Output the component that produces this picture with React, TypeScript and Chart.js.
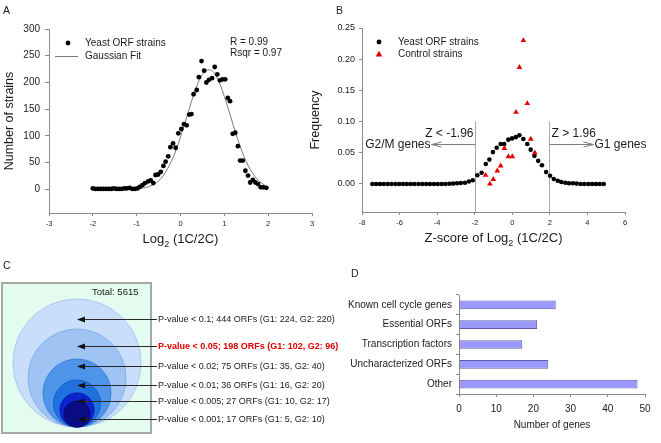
import React, { useEffect, useRef } from "react";
import { Chart, registerables } from "chart.js";

Chart.register(...registerables);

const FONT = "'Liberation Sans', Arial, Helvetica, sans-serif";
Chart.defaults.font.family = FONT;

// ---------- Panel A data ----------
const strainLog2 = [
  -2.0, -1.94, -1.88, -1.82, -1.76, -1.7, -1.64, -1.58, -1.52, -1.46, -1.4, -1.34, -1.28, -1.22, -1.16, -1.1, -1.04,
  -0.98, -0.93, -0.87, -0.81, -0.74, -0.68, -0.62, -0.57, -0.51, -0.45,
  -0.39, -0.34, -0.28, -0.23, -0.17, -0.11, -0.05, 0.02, 0.08, 0.14,
  0.2, 0.25, 0.3, 0.37, 0.42, 0.48, 0.54, 0.59, 0.65, 0.72,
  0.78, 0.84, 0.9, 0.96, 1.02, 1.08, 1.13, 1.19, 1.25, 1.31,
  1.36, 1.42, 1.48, 1.54, 1.59, 1.65, 1.71, 1.77, 1.83, 1.89, 1.96,
];
const strainCount = [
  2, 1, 1, 1, 1, 1, 1, 1, 2, 1, 1, 1, 2, 2, 3, 1, 1,
  2, 5, 8, 12, 15, 17, 12, 27, 28, 33,
  44, 52, 62, 79, 86, 78, 105, 113, 122, 120,
  140, 141, 178, 186, 210, 240, 222, 200, 205, 208,
  229, 215, 204, 206, 206, 171, 165, 104, 106, 81,
  54, 54, 35, 26, 13, 18, 13, 10, 4, 4, 3,
];
const fitLog2 = [
  -2.0, -1.5, -1.2, -1.0, -0.9, -0.8, -0.7, -0.6, -0.5, -0.4, -0.3, -0.2, -0.1, 0.0, 0.1, 0.2, 0.3,
  0.4, 0.5, 0.6, 0.7, 0.8, 0.9, 1.0, 1.1, 1.2, 1.3, 1.4, 1.5, 1.6, 1.7, 1.8, 1.9, 1.95,
];
const fitCount = [
  0, 0, 0.3, 1, 1.9, 3.4, 6, 10, 16, 25, 38, 54, 74, 98, 124, 151, 177,
  199, 215, 223, 223, 214, 197, 174, 148, 121, 95, 72, 52, 36, 24, 15, 9, 6,
];
const log2Ticks = [-3, -2, -1, 0, 1, 2, 3];
const countTicks = [0, 50, 100, 150, 200, 250, 300];
const fitStats = ["R = 0.99", "Rsqr = 0.97"];

// ---------- Panel B data ----------
const zYeast = [
  -7.45, -7.25, -7.04, -6.84, -6.63, -6.43, -6.22, -6.02, -5.81, -5.61, -5.4, -5.2, -4.99, -4.79, -4.58, -4.38,
  -4.17, -3.97, -3.76, -3.56, -3.35, -3.15, -2.94, -2.74,
  -2.52, -2.31, -2.1, -1.86, -1.63, -1.41, -1.22, -1.03, -0.83, -0.62,
  -0.43, -0.21, -0.01, 0.19, 0.38, 0.59, 0.8, 0.98, 1.18, 1.38,
  1.58, 1.8, 2.01, 2.21, 2.42, 2.61, 2.82, 3.02, 3.23, 3.43,
  3.64, 3.84, 4.05, 4.25, 4.46, 4.66, 4.87,
];
const freqYeast = [
  0, 0, 0, 0, 0, 0, 0, 0, 0, 0, 0, 0, 0, 0, 0, 0,
  0, 0, 0, 0, 0.0003, 0.0005, 0.001, 0.0015,
  0.002, 0.004, 0.006, 0.014, 0.018, 0.032, 0.039, 0.051, 0.058, 0.064,
  0.064, 0.071, 0.073, 0.075, 0.078, 0.072, 0.064, 0.055, 0.045, 0.037,
  0.03, 0.019, 0.013, 0.008, 0.005, 0.003, 0.002, 0.001, 0.001, 0.0005,
  0, 0, 0, 0, 0, 0, 0,
];
const zControl = [-1.42, -1.19, -1.01, -0.8, -0.62, -0.42, -0.21, 0.0, 0.2, 0.38, 0.59, 0.8, 0.98, 1.2];
const freqControl = [0.014, 0.0, 0.0075, 0.021, 0.029, 0.057, 0.044, 0.044, 0.115, 0.187, 0.23, 0.129, 0.072, 0.05];
const zTicks = [-8, -6, -4, -2, 0, 2, 4, 6];
const freqTicks = [0, 0.05, 0.1, 0.15, 0.2, 0.25];
const zCutoffs = [-1.96, 1.96];

// ---------- Panel C data ----------
const pThresholds = ["0.1", "0.05", "0.02", "0.01", "0.005", "0.001"];
const orfCounts = [444, 198, 75, 36, 27, 17];
const g1Counts = [224, 102, 35, 16, 10, 5];
const g2Counts = [220, 96, 40, 20, 17, 10];
const totalOrfs = 5615;

// ---------- Panel D data ----------
const geneCategories = ["Known cell cycle genes", "Essential ORFs", "Transcription factors", "Uncharacterized ORFs", "Other"];
const geneCounts = [26, 21, 17, 24, 48];
const geneTicks = [0, 10, 20, 30, 40, 50];

// ---------- helpers ----------
const AXIS = "#8a8a8a";
const TXT = "#1a1a1a";
const fixW = (w: number) => (s: any) => { s.width = w; };
const fixH = (h: number) => (s: any) => { s.height = h; };
const setTicks = (vals: number[]) => (s: any) => { s.ticks = vals.map((v) => ({ value: v })); };

function drawLogTitle(ctx: CanvasRenderingContext2D, prefix: string, cx: number, baseY: number, size: number) {
  const main = `${size}px ${FONT}`;
  const sub = `${Math.round(size * 0.68)}px ${FONT}`;
  ctx.font = main;
  const w1 = ctx.measureText(prefix + "Log").width;
  const w3 = ctx.measureText(" (1C/2C)").width;
  ctx.font = sub;
  const w2 = ctx.measureText("2").width;
  let x = cx - (w1 + w2 + w3) / 2;
  ctx.textAlign = "left";
  ctx.textBaseline = "alphabetic";
  ctx.fillStyle = TXT;
  ctx.font = main;
  ctx.fillText(prefix + "Log", x, baseY);
  x += w1;
  ctx.font = sub;
  ctx.fillText("2", x, baseY + size * 0.28);
  x += w2;
  ctx.font = main;
  ctx.fillText(" (1C/2C)", x, baseY);
}

function drawVTitle(ctx: CanvasRenderingContext2D, text: string, cx: number, cy: number, size: number) {
  ctx.save();
  ctx.translate(cx, cy);
  ctx.rotate(-Math.PI / 2);
  ctx.font = `${size}px ${FONT}`;
  ctx.fillStyle = TXT;
  ctx.textAlign = "center";
  ctx.textBaseline = "middle";
  ctx.fillText(text, 0, 0);
  ctx.restore();
}

function axisOpts(extra: any) {
  return {
    grid: { drawOnChartArea: false, drawTicks: true, tickLength: 3, color: AXIS },
    border: { display: true, color: AXIS, width: 1 },
    ...extra,
  };
}

// ---------- Panel A ----------
function makeA(canvas: HTMLCanvasElement) {
  const overlay = {
    id: "aOverlay",
    afterDraw(chart: any) {
      const { ctx, chartArea } = chart;
      ctx.save();
      ctx.fillStyle = "#000";
      ctx.beginPath();
      ctx.arc(68, 43, 2.4, 0, Math.PI * 2);
      ctx.fill();
      ctx.strokeStyle = "#7a7a7a";
      ctx.lineWidth = 1;
      ctx.beginPath();
      ctx.moveTo(55, 56.5);
      ctx.lineTo(78, 56.5);
      ctx.stroke();
      ctx.font = `10px ${FONT}`;
      ctx.fillStyle = TXT;
      ctx.textAlign = "left";
      ctx.textBaseline = "middle";
      ctx.fillText(chart.data.datasets[1].label, 85, 43);
      ctx.fillText(chart.data.datasets[0].label, 85, 56);
      ctx.fillText(fitStats[0], 230, 42);
      ctx.fillText(fitStats[1], 230, 53);
      drawLogTitle(ctx, "", (chartArea.left + chartArea.right) / 2, chartArea.bottom + 30, 13);
      drawVTitle(ctx, "Number of strains", 10, (chartArea.top + chartArea.bottom) / 2, 12.5);
      ctx.restore();
    },
  };
  return new Chart(canvas, {
    type: "scatter",
    data: {
      datasets: [
        {
          label: "Gaussian Fit",
          type: "line",
          data: fitLog2.map((x, i) => ({ x, y: fitCount[i] })),
          borderColor: "#7a7a7a",
          borderWidth: 1,
          pointRadius: 0,
          tension: 0.3,
          fill: false,
          order: 2,
        } as any,
        {
          label: "Yeast ORF strains",
          data: strainLog2.map((x, i) => ({ x, y: strainCount[i] })),
          pointRadius: 2.4,
          backgroundColor: "#000",
          borderWidth: 0,
          order: 1,
        },
      ],
    },
    options: {
      animation: false,
      responsive: false,
      layout: { autoPadding: false, padding: { left: 0, top: 29, right: 8, bottom: 0 } },
      plugins: { legend: { display: false }, tooltip: { enabled: false } },
      scales: {
        x: axisOpts({
          type: "linear",
          min: -3,
          max: 3,
          afterBuildTicks: setTicks(log2Ticks),
          afterFit: fixH(42),
          ticks: { font: { size: 7.5 }, color: TXT, padding: 3, maxRotation: 0 },
        }),
        y: axisOpts({
          type: "linear",
          min: -44,
          max: 300,
          afterBuildTicks: setTicks(countTicks),
          afterFit: fixW(49),
          ticks: { font: { size: 10 }, color: TXT, padding: 5 },
          grid: { drawOnChartArea: false, drawTicks: true, tickLength: 4, color: AXIS },
        }),
      },
    } as any,
    plugins: [overlay],
  });
}

// ---------- Panel B ----------
function makeB(canvas: HTMLCanvasElement) {
  const overlay = {
    id: "bOverlay",
    beforeDatasetsDraw(chart: any) {
      const { ctx, chartArea, scales } = chart;
      const { x, y } = scales;
      ctx.save();
      ctx.strokeStyle = "#a8a8a8";
      ctx.lineWidth = 1;
      zCutoffs.forEach((z) => {
        const px = Math.round(x.getPixelForValue(z)) + 0.5;
        ctx.beginPath();
        ctx.moveTo(px, y.getPixelForValue(0.1));
        ctx.lineTo(px, chartArea.bottom);
        ctx.stroke();
      });
      const ay = Math.round(y.getPixelForValue(0.0637)) + 0.5;
      const xl = Math.round(x.getPixelForValue(zCutoffs[0])) + 0.5;
      const xr = Math.round(x.getPixelForValue(zCutoffs[1])) + 0.5;
      const len = 44;
      ctx.strokeStyle = "#7c7c7c";
      ctx.beginPath();
      ctx.moveTo(xl, ay);
      ctx.lineTo(xl - len, ay);
      ctx.moveTo(xl - len + 10, ay - 2.5);
      ctx.lineTo(xl - len, ay);
      ctx.lineTo(xl - len + 10, ay + 2.5);
      ctx.moveTo(xr, ay);
      ctx.lineTo(xr + len, ay);
      ctx.moveTo(xr + len - 10, ay - 2.5);
      ctx.lineTo(xr + len, ay);
      ctx.lineTo(xr + len - 10, ay + 2.5);
      ctx.stroke();
      ctx.font = `12px ${FONT}`;
      ctx.fillStyle = TXT;
      ctx.textBaseline = "middle";
      ctx.textAlign = "right";
      ctx.fillText("G2/M genes", xl - len - 1, ay);
      ctx.fillText("Z < -1.96", xl - 2, ay - 11);
      ctx.textAlign = "left";
      ctx.fillText("G1 genes", xr + len + 1, ay);
      ctx.fillText("Z > 1.96", xr + 2, ay - 11);
      ctx.restore();
    },
    afterDraw(chart: any) {
      const { ctx, chartArea } = chart;
      ctx.save();
      ctx.fillStyle = "#000";
      ctx.beginPath();
      ctx.arc(79, 42, 2.4, 0, Math.PI * 2);
      ctx.fill();
      ctx.fillStyle = "#e00000";
      ctx.beginPath();
      ctx.moveTo(79, 50.8);
      ctx.lineTo(82.3, 56.6);
      ctx.lineTo(75.7, 56.6);
      ctx.closePath();
      ctx.fill();
      ctx.font = `10px ${FONT}`;
      ctx.fillStyle = TXT;
      ctx.textAlign = "left";
      ctx.textBaseline = "middle";
      ctx.fillText(chart.data.datasets[0].label, 98, 42);
      ctx.fillText(chart.data.datasets[1].label, 98, 54);
      drawLogTitle(ctx, "Z-score of ", (chartArea.left + chartArea.right) / 2, chartArea.bottom + 30, 13);
      drawVTitle(ctx, "Frequency", 16, (chartArea.top + chartArea.bottom) / 2, 12.5);
      ctx.restore();
    },
  };
  return new Chart(canvas, {
    type: "scatter",
    data: {
      datasets: [
        {
          label: "Yeast ORF strains",
          data: zYeast.map((x, i) => ({ x, y: freqYeast[i] })),
          pointRadius: 2.3,
          backgroundColor: "#000",
          borderWidth: 0,
          order: 2,
        },
        {
          label: "Control strains",
          data: zControl.map((x, i) => ({ x, y: freqControl[i] })),
          pointStyle: "triangle",
          pointRadius: 3.3,
          backgroundColor: "#e00000",
          borderWidth: 0,
          order: 1,
        },
      ],
    },
    options: {
      animation: false,
      responsive: false,
      layout: { autoPadding: false, padding: { left: 0, top: 28, right: 36, bottom: 0 } },
      plugins: { legend: { display: false }, tooltip: { enabled: false } },
      scales: {
        x: axisOpts({
          type: "linear",
          min: -8,
          max: 6,
          afterBuildTicks: setTicks(zTicks),
          afterFit: fixH(43),
          ticks: { font: { size: 7.5 }, color: TXT, padding: 3, maxRotation: 0 },
        }),
        y: axisOpts({
          type: "linear",
          min: -0.045,
          max: 0.25,
          afterBuildTicks: setTicks(freqTicks),
          afterFit: fixW(62),
          ticks: { font: { size: 9 }, color: TXT, padding: 4, callback: (v: any) => Number(v).toFixed(2) },
        }),
      },
    } as any,
    plugins: [overlay],
  });
}

// ---------- Panel C ----------
const C_RADII = [64, 49, 34, 23.5, 17, 13];
const C_FILL = ["#c9defa", "#9fc4f3", "#4e95ea", "#1f72de", "#0c22cf", "#0a0c86"];
const C_EDGE = ["#aac8ef", "#84b0ea", "#3b82dc", "#1760c8", "#0818a8", "#06086a"];
const C_ROW_LEVEL = [108, 81, 61, 42.3, 26, 8];

function makeC(canvas: HTMLCanvasElement) {
  const overlay = {
    id: "cOverlay",
    beforeDatasetsDraw(chart: any) {
      const ctx = chart.ctx;
      ctx.save();
      ctx.fillStyle = "#e4fbef";
      ctx.fillRect(2, 3, 149, 150);
      ctx.strokeStyle = "#a3aaa3";
      ctx.lineWidth = 2;
      ctx.strokeRect(2, 3, 149, 150);
      ctx.fillStyle = TXT;
      ctx.font = `9.5px ${FONT}`;
      ctx.textBaseline = "middle";
      ctx.textAlign = "left";
      ctx.fillText(`Total: ${totalOrfs}`, 92, 12);
      ctx.restore();
    },
    afterDatasetsDraw(chart: any) {
      const { ctx, scales } = chart;
      const tipX = scales.x.getPixelForValue(0);
      ctx.save();
      pThresholds.forEach((p, i) => {
        const y = Math.round(scales.y.getPixelForValue(C_ROW_LEVEL[i])) + 0.5;
        const startX = 157;
        ctx.strokeStyle = "#2a2a2a";
        ctx.lineWidth = 1;
        ctx.beginPath();
        ctx.moveTo(startX, y);
        ctx.lineTo(tipX + 6, y);
        ctx.stroke();
        ctx.fillStyle = "#111";
        ctx.beginPath();
        ctx.moveTo(tipX, y);
        ctx.lineTo(tipX + 8, y - 3);
        ctx.lineTo(tipX + 8, y + 3);
        ctx.closePath();
        ctx.fill();
        const red = i === 1;
        ctx.font = `${red ? "bold " : ""}9px ${FONT}`;
        ctx.fillStyle = red ? "#e00000" : TXT;
        ctx.textAlign = "left";
        ctx.textBaseline = "middle";
        ctx.fillText(
          `P-value < ${p}; ${orfCounts[i]} ORFs (G1: ${g1Counts[i]}, G2: ${g2Counts[i]})`,
          startX + 1,
          y
        );
      });
      ctx.restore();
    },
  };
  return new Chart(canvas, {
    type: "bubble",
    data: {
      datasets: [
        {
          label: "P-value sets",
          data: C_RADII.map((r) => ({ x: 0, y: r, r })),
          backgroundColor: C_FILL,
          borderColor: C_EDGE,
          borderWidth: 1,
          clip: false,
        },
      ],
    },
    options: {
      animation: false,
      responsive: false,
      layout: { autoPadding: false, padding: 0 },
      plugins: { legend: { display: false }, tooltip: { enabled: false } },
      scales: {
        x: { type: "linear", display: false, min: -77, max: 268 },
        y: { type: "linear", display: false, min: -16, max: 147 },
      },
    } as any,
    plugins: [overlay],
  });
}

// ---------- Panel D ----------
function makeD(canvas: HTMLCanvasElement) {
  const overlay = {
    id: "dOverlay",
    afterDraw(chart: any) {
      const { ctx, chartArea } = chart;
      ctx.save();
      ctx.font = `10px ${FONT}`;
      ctx.fillStyle = TXT;
      ctx.textAlign = "center";
      ctx.textBaseline = "middle";
      ctx.fillText("Number of genes", (chartArea.left + chartArea.right) / 2, chartArea.bottom + 31);
      ctx.restore();
    },
  };
  return new Chart(canvas, {
    type: "bar",
    data: {
      labels: geneCategories,
      datasets: [
        {
          label: "Number of genes",
          data: geneCounts,
          backgroundColor: "#9999ff",
          borderColor: "#5c5ca8",
          borderWidth: 1,
          borderSkipped: false,
          barPercentage: 0.44,
          categoryPercentage: 1,
        },
      ],
    },
    options: {
      indexAxis: "y",
      animation: false,
      responsive: false,
      layout: { autoPadding: false, padding: { left: 0, top: 10, right: 16, bottom: 0 } },
      plugins: { legend: { display: false }, tooltip: { enabled: false } },
      scales: {
        x: axisOpts({
          type: "linear",
          min: 0,
          max: 50,
          afterBuildTicks: setTicks(geneTicks),
          afterFit: fixH(49),
          ticks: { font: { size: 10 }, color: TXT, padding: 6, maxRotation: 0 },
        }),
        y: axisOpts({
          type: "category",
          afterFit: fixW(129),
          ticks: { font: { size: 10 }, color: TXT, padding: 4 },
          grid: { drawOnChartArea: false, drawTicks: true, tickLength: 3, color: AXIS, offset: true },
        }),
      },
    } as any,
    plugins: [overlay],
  });
}

const letter = (t: string, left: number, top: number) => (
  <div style={{ position: "absolute", left, top, fontSize: 10.5, lineHeight: "10px", color: TXT }}>{t}</div>
);

export default function App() {
  const aRef = useRef<HTMLCanvasElement>(null);
  const bRef = useRef<HTMLCanvasElement>(null);
  const cRef = useRef<HTMLCanvasElement>(null);
  const dRef = useRef<HTMLCanvasElement>(null);

  useEffect(() => {
    const charts = [
      makeA(aRef.current!),
      makeB(bRef.current!),
      makeC(cRef.current!),
      makeD(dRef.current!),
    ];
    return () => charts.forEach((c) => c.destroy());
  }, []);

  const cv = (left: number, top: number): React.CSSProperties => ({ position: "absolute", left, top, display: "block" });

  return (
    <div
      style={{
        position: "absolute",
        left: 0,
        top: 0,
        width: 661,
        height: 443,
        background: "#fff",
        overflow: "hidden",
        fontFamily: FONT,
      }}
    >
      <canvas ref={cRef} width={345} height={163} style={cv(0, 280)} />
      <canvas ref={dRef} width={331} height={158} style={cv(330, 285)} />
      <canvas ref={bRef} width={361} height={255} style={cv(300, 0)} />
      <canvas ref={aRef} width={320} height={255} style={cv(0, 0)} />
      {letter("A", 3, 5)}
      {letter("B", 336, 5)}
      {letter("C", 3, 260)}
      {letter("D", 351, 268)}
    </div>
  );
}
